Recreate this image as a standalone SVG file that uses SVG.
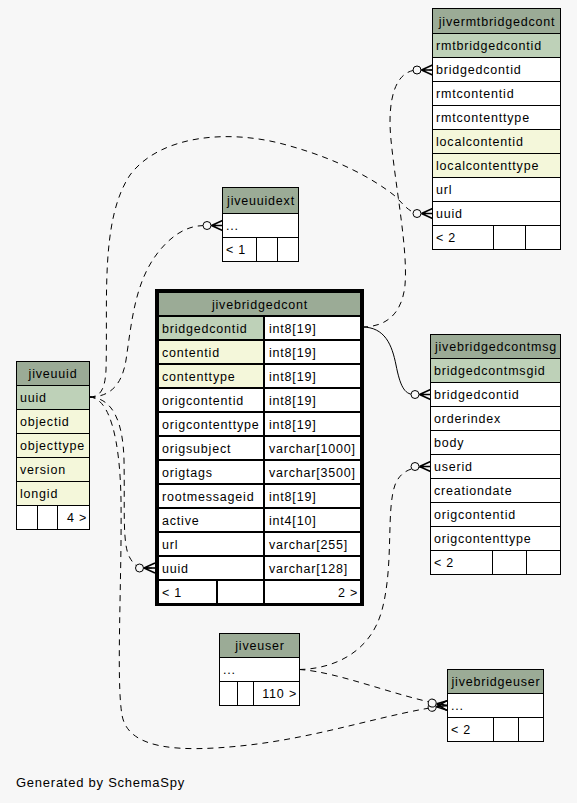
<svg xmlns="http://www.w3.org/2000/svg" width="577" height="803" viewBox="0 0 577 803">
<style>
.hd{fill:#9bab96;stroke:#000;stroke-width:1}
.pk{fill:#bed1b8;stroke:#000;stroke-width:1}
.ix{fill:#f4f7da;stroke:#000;stroke-width:1}
.wt{fill:#fff;stroke:#000;stroke-width:1}
.bold rect{stroke-width:2}
text{font-family:"Liberation Sans",Arial,Helvetica,sans-serif;font-size:12.5px;letter-spacing:0.8px;fill:#000}
.c{text-anchor:middle}
.r{text-anchor:end}
.foot{font-size:13px;letter-spacing:0.75px}
.edge{fill:none;stroke:#000;stroke-width:1}
.dash{stroke-dasharray:6,5}
</style>
<defs>
<marker id="crowodot" markerUnits="userSpaceOnUse" markerWidth="22" markerHeight="14" refX="20" refY="6" orient="auto" overflow="visible">
<circle cx="4.5" cy="6" r="4" fill="#f7f7f7" stroke="#000" stroke-width="1"/>
<path d="M9,6 L20,1 M9,6 L20,6 M9,6 L20,11" fill="none" stroke="#000" stroke-width="1.5"/>
</marker>
</defs>
<rect x="0" y="0" width="577" height="803" fill="#f7f7f7"/>

<g id="connectors">
<path class="edge" d="M362,327 C385,327 392,345 396,365 C400,385 404,394.5 414,394.5 L430.5,394.5" marker-end="url(#crowodot)"/>
<path class="edge dash" d="M362,327 C385,327 402,315 405,285 C408,250 396,190 391,140 C387,100 395,70 418,70 L432.5,70" marker-end="url(#crowodot)"/>
<path class="edge dash" d="M89.5,397 C100,397 105,390 106,370 C108,300 100,220 130,175 C160,135 230,128 290,146 C340,160 375,180 395,196 C405,206 410,213.5 420,213.5 L432.5,213.5" marker-end="url(#crowodot)"/>
<path class="edge dash" d="M89.5,397 C110,397 122,385 126,360 C132,320 135,280 160,250 C175,232 190,225.5 205,225.5 L222.5,225.5" marker-end="url(#crowodot)"/>
<path class="edge dash" d="M89.5,397 C112,398 123,420 124,460 C125,510 122,545 130,558 C134,565 138,568 144,568 L155,568" marker-end="url(#crowodot)"/>
<path class="edge dash" d="M89.5,397 C110,398 120,440 121,500 C122,580 116,680 122,715 C128,750 180,752 240,746 C320,738 390,712 447.5,705.5" marker-end="url(#crowodot)"/>
<path class="edge dash" d="M299.5,669.5 C330,669 370,655 382,610 C394,565 386,510 395,485 C400,472 410,466.5 430.5,466.5" marker-end="url(#crowodot)"/>
<path class="edge dash" d="M299.5,669.5 C340,672 400,698 447.5,705.5" marker-end="url(#crowodot)"/>
</g>

<g id="jivermtbridgedcont">
<rect class="hd" x="432.5" y="8.5" width="128" height="25"/>
<rect class="pk" x="432.5" y="33.5" width="128" height="24"/>
<rect class="wt" x="432.5" y="57.5" width="128" height="24"/>
<rect class="wt" x="432.5" y="81.5" width="128" height="24"/>
<rect class="wt" x="432.5" y="105.5" width="128" height="24"/>
<rect class="ix" x="432.5" y="129.5" width="128" height="24"/>
<rect class="ix" x="432.5" y="153.5" width="128" height="24"/>
<rect class="wt" x="432.5" y="177.5" width="128" height="24"/>
<rect class="wt" x="432.5" y="201.5" width="128" height="24"/>
<rect class="wt" x="432.5" y="225.5" width="61" height="24"/>
<rect class="wt" x="493.5" y="225.5" width="32" height="24"/>
<rect class="wt" x="525.5" y="225.5" width="35" height="24"/>
<text class="c" x="497" y="26">jivermtbridgedcont</text>
<text x="436" y="50">rmtbridgedcontid</text>
<text x="436" y="74">bridgedcontid</text>
<text x="436" y="98">rmtcontentid</text>
<text x="436" y="122">rmtcontenttype</text>
<text x="436" y="146">localcontentid</text>
<text x="436" y="170">localcontenttype</text>
<text x="436" y="194">url</text>
<text x="436" y="218">uuid</text>
<text x="436" y="242">&lt; 2</text>
</g>

<g id="jiveuuidext">
<rect class="hd" x="222.5" y="187.5" width="76" height="26"/>
<rect class="wt" x="222.5" y="213.5" width="76" height="24"/>
<rect class="wt" x="222.5" y="237.5" width="34" height="24"/>
<rect class="wt" x="256.5" y="237.5" width="21" height="24"/>
<rect class="wt" x="277.5" y="237.5" width="21" height="24"/>
<text class="c" x="261" y="205">jiveuuidext</text>
<text x="226" y="230">...</text>
<text x="226" y="254">&lt; 1</text>
</g>

<g id="jivebridgedcont" class="bold">
<rect class="hd" x="158" y="292" width="203" height="24"/>
<rect class="pk" x="158" y="316" width="106" height="24"/>
<rect class="wt" x="264" y="316" width="97" height="24"/>
<rect class="ix" x="158" y="340" width="106" height="24"/>
<rect class="wt" x="264" y="340" width="97" height="24"/>
<rect class="ix" x="158" y="364" width="106" height="24"/>
<rect class="wt" x="264" y="364" width="97" height="24"/>
<rect class="wt" x="158" y="388" width="106" height="24"/>
<rect class="wt" x="264" y="388" width="97" height="24"/>
<rect class="wt" x="158" y="412" width="106" height="24"/>
<rect class="wt" x="264" y="412" width="97" height="24"/>
<rect class="wt" x="158" y="436" width="106" height="24"/>
<rect class="wt" x="264" y="436" width="97" height="24"/>
<rect class="wt" x="158" y="460" width="106" height="24"/>
<rect class="wt" x="264" y="460" width="97" height="24"/>
<rect class="wt" x="158" y="484" width="106" height="24"/>
<rect class="wt" x="264" y="484" width="97" height="24"/>
<rect class="wt" x="158" y="508" width="106" height="24"/>
<rect class="wt" x="264" y="508" width="97" height="24"/>
<rect class="wt" x="158" y="532" width="106" height="24"/>
<rect class="wt" x="264" y="532" width="97" height="24"/>
<rect class="wt" x="158" y="556" width="106" height="24"/>
<rect class="wt" x="264" y="556" width="97" height="24"/>
<rect class="wt" x="158" y="580" width="59" height="24"/>
<rect class="wt" x="217" y="580" width="47" height="24"/>
<rect class="wt" x="264" y="580" width="97" height="24"/>
<rect x="156.5" y="290.5" width="206" height="314" fill="none" stroke="#000" style="stroke-width:3"/>
<text class="c" x="260" y="309">jivebridgedcont</text>
<text x="162" y="333">bridgedcontid</text><text x="269" y="333">int8[19]</text>
<text x="162" y="357">contentid</text><text x="269" y="357">int8[19]</text>
<text x="162" y="381">contenttype</text><text x="269" y="381">int8[19]</text>
<text x="162" y="405">origcontentid</text><text x="269" y="405">int8[19]</text>
<text x="162" y="429">origcontenttype</text><text x="269" y="429">int8[19]</text>
<text x="162" y="453">origsubject</text><text x="269" y="453">varchar[1000]</text>
<text x="162" y="477">origtags</text><text x="269" y="477">varchar[3500]</text>
<text x="162" y="501">rootmessageid</text><text x="269" y="501">int8[19]</text>
<text x="162" y="525">active</text><text x="269" y="525">int4[10]</text>
<text x="162" y="549">url</text><text x="269" y="549">varchar[255]</text>
<text x="162" y="573">uuid</text><text x="269" y="573">varchar[128]</text>
<text x="162" y="597">&lt; 1</text><text class="r" x="358" y="597">2 &gt;</text>
</g>

<g id="jiveuuid">
<rect class="hd" x="16.5" y="361.5" width="73" height="24"/>
<rect class="pk" x="16.5" y="385.5" width="73" height="24"/>
<rect class="ix" x="16.5" y="409.5" width="73" height="24"/>
<rect class="ix" x="16.5" y="433.5" width="73" height="24"/>
<rect class="ix" x="16.5" y="457.5" width="73" height="24"/>
<rect class="ix" x="16.5" y="481.5" width="73" height="24"/>
<rect class="wt" x="16.5" y="505.5" width="21" height="24"/>
<rect class="wt" x="37.5" y="505.5" width="20" height="24"/>
<rect class="wt" x="57.5" y="505.5" width="32" height="24"/>
<text class="c" x="53" y="378">jiveuuid</text>
<text x="20" y="402">uuid</text>
<text x="20" y="426">objectid</text>
<text x="20" y="450">objecttype</text>
<text x="20" y="474">version</text>
<text x="20" y="498">longid</text>
<text class="r" x="87" y="522">4 &gt;</text>
</g>

<g id="jivebridgedcontmsg">
<rect class="hd" x="430.5" y="334.5" width="130" height="24"/>
<rect class="pk" x="430.5" y="358.5" width="130" height="24"/>
<rect class="wt" x="430.5" y="382.5" width="130" height="24"/>
<rect class="wt" x="430.5" y="406.5" width="130" height="24"/>
<rect class="wt" x="430.5" y="430.5" width="130" height="24"/>
<rect class="wt" x="430.5" y="454.5" width="130" height="24"/>
<rect class="wt" x="430.5" y="478.5" width="130" height="24"/>
<rect class="wt" x="430.5" y="502.5" width="130" height="24"/>
<rect class="wt" x="430.5" y="526.5" width="130" height="24"/>
<rect class="wt" x="430.5" y="550.5" width="62" height="24"/>
<rect class="wt" x="492.5" y="550.5" width="34" height="24"/>
<rect class="wt" x="526.5" y="550.5" width="34" height="24"/>
<text class="c" x="496" y="351">jivebridgedcontmsg</text>
<text x="434" y="375">bridgedcontmsgid</text>
<text x="434" y="399">bridgedcontid</text>
<text x="434" y="423">orderindex</text>
<text x="434" y="447">body</text>
<text x="434" y="471">userid</text>
<text x="434" y="495">creationdate</text>
<text x="434" y="519">origcontentid</text>
<text x="434" y="543">origcontenttype</text>
<text x="434" y="567">&lt; 2</text>
</g>

<g id="jiveuser">
<rect class="hd" x="219.5" y="633.5" width="80" height="24"/>
<rect class="wt" x="219.5" y="657.5" width="80" height="24"/>
<rect class="wt" x="219.5" y="681.5" width="18" height="24"/>
<rect class="wt" x="237.5" y="681.5" width="16" height="24"/>
<rect class="wt" x="253.5" y="681.5" width="46" height="24"/>
<text class="c" x="260" y="650">jiveuser</text>
<text x="223" y="674">...</text>
<text class="r" x="297" y="698">110 &gt;</text>
</g>

<g id="jivebridgeuser">
<rect class="hd" x="447.5" y="669.5" width="96" height="24"/>
<rect class="wt" x="447.5" y="693.5" width="96" height="24"/>
<rect class="wt" x="447.5" y="717.5" width="46" height="24"/>
<rect class="wt" x="493.5" y="717.5" width="25" height="24"/>
<rect class="wt" x="518.5" y="717.5" width="25" height="24"/>
<text class="c" x="496" y="686">jivebridgeuser</text>
<text x="451" y="710">...</text>
<text x="451" y="734">&lt; 2</text>
</g>

<text class="foot" x="16" y="787">Generated by SchemaSpy</text>
</svg>
